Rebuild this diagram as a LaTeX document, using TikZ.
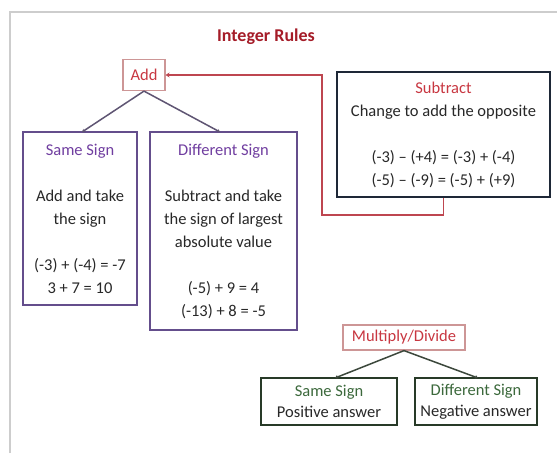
\documentclass[tikz,border=0pt]{standalone}
\usepackage{fontspec}
\setmainfont{Carlito}
\usetikzlibrary{arrows.meta}
\definecolor{titlered}{RGB}{165,28,40}
\definecolor{addred}{RGB}{200,55,65}
\definecolor{addborder}{RGB}{205,150,150}
\definecolor{purpborder}{RGB}{100,78,140}
\definecolor{purptext}{RGB}{112,62,160}
\definecolor{navyborder}{RGB}{30,40,55}
\definecolor{greenborder}{RGB}{40,58,40}
\definecolor{greentext}{RGB}{60,105,60}
\definecolor{bodytext}{RGB}{40,40,40}
\definecolor{routered}{RGB}{190,70,80}
\definecolor{framegray}{RGB}{205,205,205}
\definecolor{purpline}{RGB}{95,85,115}
\definecolor{greenline}{RGB}{60,72,60}
\tikzset{
  body/.style={font=\fontsize{16.5}{23}\selectfont, text=bodytext, align=center, inner sep=0pt},
  opbox/.style={draw=addborder, line width=1.2pt, text=addred, font=\fontsize{16.5}{20}\selectfont, inner sep=0pt, align=center},
  purpbox/.style={body, draw=purpborder, line width=1.8pt},
  navybox/.style={body, draw=navyborder, line width=2pt},
  greenbox/.style={body, draw=greenborder, line width=1.8pt, font=\fontsize{16.5}{21}\selectfont},
  purpconn/.style={draw=purpline, line width=1.5pt, -{Stealth[length=3pt,width=4pt]}},
  greenconn/.style={draw=greenline, line width=1.5pt, -{Stealth[length=3pt,width=4pt]}},
  routeconn/.style={draw=routered, line width=1.5pt, -{Stealth[length=4pt,width=5pt]}}
}
\begin{document}
\begin{tikzpicture}[x=1pt,y=-1pt]
\useasboundingbox (0,0) rectangle (557,453);
\fill[white] (0,0) rectangle (557,453);
\draw[framegray, line width=2pt] (10,453) -- (10,12) -- (557,12);

\node[font=\fontsize{18}{20}\selectfont\bfseries, text=titlered] (title) at (266,37) {Integer Rules};

\node[opbox, minimum width=42pt, minimum height=31pt] (add) at (144,75) {Add};

\node[purpbox, minimum width=114pt, minimum height=173pt] (same) at (80,218.5)
  {\textcolor{purptext}{Same Sign}\\[23pt]Add and take\\the sign\\[23pt](-3) + (-4) = -7\\3 + 7 = 10};

\node[purpbox, minimum width=147pt, minimum height=198pt] (diff) at (223.5,231)
  {\textcolor{purptext}{Different Sign}\\[23pt]Subtract and take\\the sign of largest\\absolute value\\[23pt](-5) + 9 = 4\\(-13) + 8 = -5};

\node[navybox, minimum width=213pt, minimum height=125pt] (sub) at (443.5,134.5)
  {\textcolor{addred}{Subtract}\\Change to add the opposite\\[23pt](-3) -- (+4) = (-3) + (-4)\\(-5) -- (-9) = (-5) + (+9)};

\node[opbox, minimum width=122pt, minimum height=25pt] (md) at (404,337.5) {Multiply/Divide};

\node[greenbox, minimum width=136pt, minimum height=47pt] (ss) at (329,401.5)
  {\textcolor{greentext}{Same Sign}\\Positive answer};
\node[greenbox, minimum width=122pt, minimum height=47pt] (ds) at (476,401.5)
  {\textcolor{greentext}{Different Sign}\\Negative answer};

\coordinate (bend) at (322,215);
\draw[routeconn] (sub.south) |- (bend) |- (add.east);

\draw[purpconn] (add.south) -- (82,132);
\draw[purpconn] (add.south) -- (220,132);
\draw[greenconn] (md.south) -- (335,378);
\draw[greenconn] (md.south) -- (478,378);
\end{tikzpicture}
\end{document}
